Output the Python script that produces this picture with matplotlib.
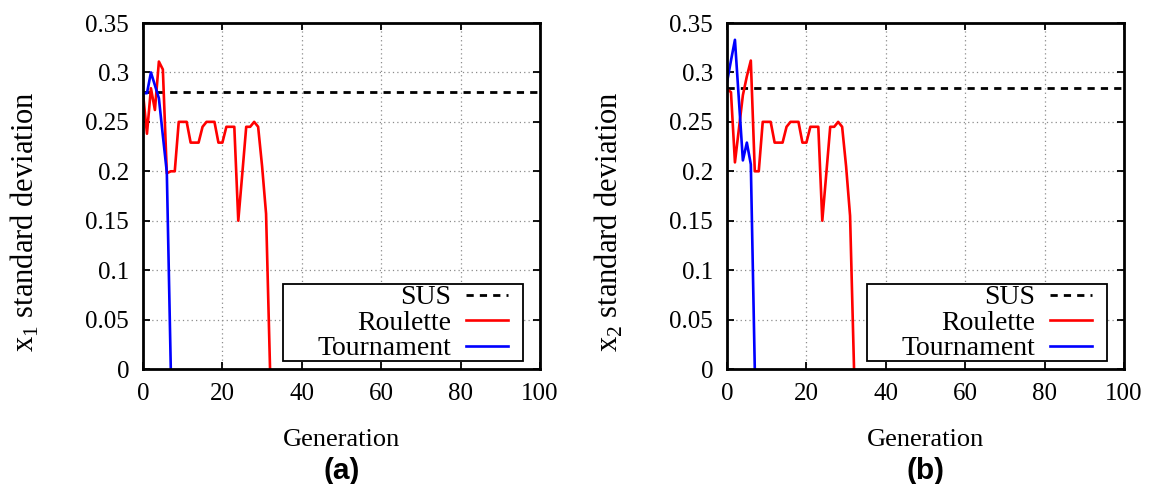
import matplotlib.pyplot as plt
from matplotlib.patches import Rectangle
from matplotlib.ticker import FormatStrFormatter

# donnees
gen_red = [0, 1, 2, 3, 4, 5, 6, 7, 8, 9, 10, 11, 12, 13, 14, 15, 16,
           17, 18, 19, 20, 21, 22, 23, 24, 25, 26, 27, 28, 29, 30, 31, 32]
gen_blue = [0, 1, 2, 3, 4, 5, 6, 7]
gen_sus = [0, 100]

roulette_x1 = [0.279, 0.238, 0.284, 0.262, 0.311, 0.303, 0.198, 0.200, 0.200,
               0.250, 0.250, 0.250, 0.229, 0.229, 0.229, 0.245, 0.250, 0.250,
               0.250, 0.229, 0.229, 0.245, 0.245, 0.245, 0.150, 0.197, 0.245,
               0.245, 0.250, 0.245, 0.205, 0.157, 0.0]
tournament_x1 = [0.279, 0.279, 0.300, 0.287, 0.274, 0.236, 0.199, 0.0]
sus_x1 = [0.280, 0.280]

roulette_x2 = [0.283, 0.280, 0.209, 0.243, 0.277, 0.296, 0.312, 0.200, 0.200,
               0.250, 0.250, 0.250, 0.229, 0.229, 0.229, 0.245, 0.250, 0.250,
               0.250, 0.229, 0.229, 0.245, 0.245, 0.245, 0.150, 0.197, 0.245,
               0.245, 0.250, 0.245, 0.205, 0.155, 0.0]
tournament_x2 = [0.290, 0.312, 0.333, 0.272, 0.211, 0.229, 0.207, 0.0]
sus_x2 = [0.284, 0.284]

panels = [
  ("x$_1$ standard deviation", "(a)", sus_x1, roulette_x1, tournament_x1),
  ("x$_2$ standard deviation", "(b)", sus_x2, roulette_x2, tournament_x2),
]
lefts = [143 / 1150, 727 / 1150]

plt.rcParams['font.family'] = ['Liberation Serif', 'DejaVu Serif']
plt.rcParams['mathtext.fontset'] = 'custom'
plt.rcParams['mathtext.rm'] = 'Liberation Serif'

fig = plt.figure(figsize=(11.5, 4.84), dpi=100)

for (ylab, tag, sus, roul, tour), left in zip(panels, lefts):
  ax = fig.add_axes([left, 115 / 484, 397 / 1150, 346 / 484])

  ax.plot(gen_sus, sus, color='black', lw=2.0, dashes=(2.6, 2.2), label="SUS")
  ax.plot(gen_red, roul, color='#ff0000', lw=1.9, label="Roulette")
  ax.plot(gen_blue, tour, color='#0000ff', lw=1.9, label="Tournament")

  ax.set_xlim(0, 100)
  ax.set_ylim(0, 0.35)
  ax.set_xticks([0, 20, 40, 60, 80, 100])
  ax.set_yticks([0, 0.05, 0.1, 0.15, 0.2, 0.25, 0.3, 0.35])
  ax.yaxis.set_major_formatter(FormatStrFormatter('%g'))
  ax.tick_params(direction='in', length=5, width=1.3, top=True, right=True,
                 labelsize=18, pad=10)
  ax.grid(True, color='#8c8c8c', linestyle=(0, (1, 2.5)), lw=0.9)
  ax.set_axisbelow(True)
  for sp in ax.spines.values():
    sp.set_linewidth(2.0)

  ax.set_xlabel("Generation", fontsize=19, va='baseline')
  ax.xaxis.set_label_coords(0.5, -0.222)
  ax.set_ylabel(ylab, fontsize=22, va='center')
  ax.yaxis.set_label_coords(-0.297, 0.425)

  # cadre de legende facon gnuplot (texte a droite, trait a droite)
  box = Rectangle((0.353, 0.023), 0.604, 0.223, transform=ax.transAxes,
                  facecolor='white', edgecolor='black', lw=1.3, zorder=4)
  ax.add_patch(box)
  leg = ax.legend(loc='lower right', bbox_to_anchor=(0.919, 0.022),
                  frameon=False, markerfirst=False, fontsize=20,
                  handlelength=1.5, handletextpad=0.55, labelspacing=0.0,
                  borderpad=0, borderaxespad=0)
  leg.set_zorder(5)

  fig.text(left + 397 / 1150 / 2, 0.027, tag, ha='center', va='center',
           fontsize=21.5, fontweight='bold', family='Liberation Sans')

fig.savefig("out.png", dpi=100)
